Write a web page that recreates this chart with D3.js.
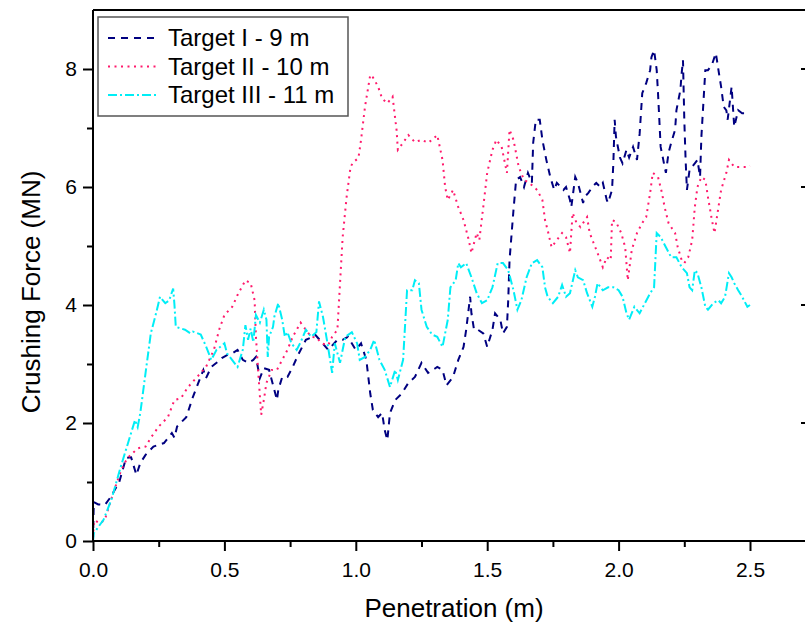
<!DOCTYPE html>
<html>
<head>
<meta charset="utf-8">
<script src="https://cdn.jsdelivr.net/npm/d3@7"></script>
<style>
  body { margin: 0; background: #fff; }
  text { font-family: Arial, "Liberation Sans", sans-serif; fill: #000; }
  .axis path, .axis line { stroke: #000; stroke-width: 2; }
</style>
</head>
<body>
<div id="chart"></div>
<script>
// series names and styles
var seriesNames = ["Target I - 9 m", "Target II - 10 m", "Target III - 11 m"];
var xTicks = [0, 0.5, 1.0, 1.5, 2.0, 2.5];
var yTicks = [0, 2, 4, 6, 8];

// penetration (m), crushing force (MN)
var target1 = [
  [0.000,0.00],[0.003,0.66],[0.02,0.62],[0.045,0.61],[0.068,0.75],[0.10,1.00],[0.126,1.41],[0.145,1.42],
  [0.165,1.12],[0.18,1.32],[0.20,1.46],[0.23,1.60],[0.27,1.66],[0.30,1.83],[0.31,1.75],[0.32,1.94],
  [0.355,2.10],[0.38,2.44],[0.42,2.90],[0.43,2.76],[0.45,2.95],[0.47,3.02],[0.49,3.10],[0.51,3.15],
  [0.53,3.18],[0.55,3.24],[0.57,3.07],[0.59,3.02],[0.61,3.07],[0.62,3.12],[0.635,2.76],[0.65,2.93],
  [0.67,2.90],[0.68,2.73],[0.70,2.39],[0.705,2.56],[0.72,2.78],[0.74,2.78],[0.76,2.95],[0.78,3.15],
  [0.81,3.41],[0.825,3.44],[0.845,3.50],[0.87,3.37],[0.895,3.24],[0.93,3.41],[0.95,3.41],[0.97,3.46],
  [1.00,3.24],[1.02,3.35],[1.04,3.07],[1.055,2.50],[1.065,2.22],[1.085,2.10],[1.10,2.17],[1.11,1.88],
  [1.12,1.71],[1.13,2.17],[1.15,2.39],[1.175,2.50],[1.20,2.68],[1.225,2.78],[1.25,3.02],[1.275,2.85],
  [1.30,2.92],[1.31,2.95],[1.33,2.90],[1.345,2.64],[1.37,2.78],[1.39,3.07],[1.41,3.29],[1.42,3.58],
  [1.435,4.14],[1.44,3.86],[1.45,3.58],[1.465,3.58],[1.485,3.52],[1.50,3.29],[1.52,3.58],[1.53,3.86],
  [1.55,3.75],[1.56,3.52],[1.575,3.63],[1.58,4.08],[1.585,4.76],[1.60,5.61],[1.61,6.12],[1.625,6.17],
  [1.64,6.00],[1.655,6.24],[1.67,6.07],[1.675,6.75],[1.685,7.14],[1.70,7.14],[1.71,6.80],[1.725,6.46],
  [1.74,6.17],[1.755,5.95],[1.765,6.07],[1.79,5.95],[1.80,6.00],[1.815,5.78],[1.82,5.66],[1.835,6.17],
  [1.845,6.07],[1.855,5.90],[1.865,5.73],[1.87,5.83],[1.885,5.90],[1.90,6.00],[1.915,6.07],[1.93,6.00],
  [1.94,6.07],[1.955,5.78],[1.96,5.73],[1.975,5.95],[1.98,6.40],[1.985,7.14],[1.99,6.85],[2.005,6.50],
  [2.015,6.40],[2.03,6.63],[2.04,6.50],[2.055,6.68],[2.07,6.46],[2.08,6.90],[2.09,7.59],[2.105,7.76],
  [2.12,7.98],[2.125,8.20],[2.135,8.32],[2.145,7.98],[2.15,7.59],[2.155,7.14],[2.16,6.68],[2.17,6.46],
  [2.175,6.34],[2.18,6.24],[2.19,6.58],[2.20,6.75],[2.215,6.97],[2.22,7.30],[2.235,7.64],[2.24,7.93],
  [2.245,8.15],[2.25,7.14],[2.255,6.46],[2.26,5.95],[2.27,6.29],[2.29,6.40],[2.30,6.46],[2.31,6.17],
  [2.315,6.85],[2.33,7.98],[2.34,7.98],[2.355,8.07],[2.37,8.27],[2.38,7.98],[2.39,7.70],[2.40,7.36],
  [2.41,7.30],[2.415,7.14],[2.43,7.70],[2.435,7.36],[2.44,7.02],[2.455,7.30],[2.47,7.25],[2.49,7.25],
  [2.50,7.25]
];

var target2 = [
  [0.000,0.05],[0.003,0.30],[0.006,0.35],[0.027,0.30],[0.045,0.36],[0.076,0.80],[0.107,1.20],[0.13,1.40],
  [0.17,1.57],[0.20,1.60],[0.22,1.75],[0.25,1.94],[0.285,2.10],[0.31,2.39],[0.335,2.42],[0.36,2.60],
  [0.40,2.80],[0.42,2.90],[0.43,2.95],[0.46,3.24],[0.48,3.58],[0.50,3.83],[0.53,3.97],[0.55,4.17],
  [0.58,4.42],[0.60,4.37],[0.615,4.08],[0.62,3.46],[0.63,2.78],[0.64,2.14],[0.65,2.39],[0.66,2.68],
  [0.68,2.90],[0.70,2.90],[0.72,3.07],[0.74,3.24],[0.76,3.46],[0.79,3.70],[0.81,3.58],[0.83,3.46],
  [0.85,3.45],[0.87,3.35],[0.895,3.32],[0.91,3.46],[0.93,3.58],[0.94,4.37],[0.95,5.15],[0.965,5.83],
  [0.98,6.34],[0.99,6.42],[1.01,6.49],[1.02,6.80],[1.035,7.36],[1.055,7.90],[1.065,7.86],[1.085,7.70],
  [1.10,7.50],[1.12,7.42],[1.14,7.53],[1.155,6.97],[1.16,6.63],[1.18,6.75],[1.20,6.88],[1.225,6.76],
  [1.25,6.80],[1.275,6.75],[1.29,6.80],[1.31,6.88],[1.33,6.46],[1.34,6.00],[1.35,5.78],[1.37,5.95],
  [1.39,5.66],[1.41,5.44],[1.43,5.10],[1.44,4.88],[1.46,5.22],[1.47,5.10],[1.485,5.66],[1.50,6.24],
  [1.52,6.63],[1.535,6.80],[1.555,6.68],[1.575,6.24],[1.585,6.97],[1.60,6.80],[1.62,6.34],[1.64,6.12],
  [1.66,6.07],[1.69,5.95],[1.71,5.78],[1.72,5.44],[1.73,5.27],[1.745,4.98],[1.765,5.10],[1.785,5.22],
  [1.80,5.15],[1.815,4.88],[1.825,5.56],[1.84,5.39],[1.855,5.32],[1.865,5.39],[1.88,5.49],[1.89,5.22],
  [1.905,5.05],[1.92,4.88],[1.94,4.64],[1.955,4.81],[1.97,4.76],[1.975,5.44],[1.99,5.41],[2.01,5.22],
  [2.025,4.98],[2.035,4.42],[2.05,4.93],[2.07,5.22],[2.09,5.39],[2.105,5.49],[2.12,5.90],[2.13,6.24],
  [2.15,6.17],[2.165,5.90],[2.175,5.66],[2.19,5.39],[2.20,5.32],[2.215,5.22],[2.225,4.98],[2.24,4.76],
  [2.25,4.71],[2.265,4.81],[2.28,5.10],[2.29,5.66],[2.30,6.00],[2.315,6.17],[2.33,6.12],[2.34,5.83],
  [2.355,5.44],[2.365,5.22],[2.38,5.66],[2.39,5.95],[2.41,6.24],[2.42,6.46],[2.44,6.34],[2.46,6.34],
  [2.49,6.34],[2.50,6.36]
];

var target3 = [
  [0.000,0.00],[0.003,0.13],[0.04,0.36],[0.07,0.70],[0.105,1.25],[0.125,1.54],[0.16,2.05],[0.17,1.93],
  [0.18,2.17],[0.20,2.85],[0.22,3.52],[0.24,3.86],[0.255,4.14],[0.275,4.03],[0.29,4.08],[0.305,4.28],
  [0.31,4.00],[0.315,3.63],[0.35,3.58],[0.37,3.52],[0.38,3.55],[0.41,3.50],[0.43,3.30],[0.45,3.07],
  [0.47,3.24],[0.50,3.35],[0.51,3.18],[0.55,2.95],[0.57,3.24],[0.58,3.66],[0.59,3.41],[0.60,3.60],
  [0.61,3.37],[0.62,3.83],[0.635,3.70],[0.65,3.92],[0.66,3.75],[0.665,3.12],[0.67,3.46],[0.685,3.63],
  [0.69,3.80],[0.705,4.03],[0.72,3.75],[0.73,3.46],[0.74,3.54],[0.755,3.35],[0.775,3.24],[0.79,3.37],
  [0.81,3.58],[0.83,3.46],[0.85,3.54],[0.86,4.06],[0.875,3.80],[0.89,3.41],[0.91,2.85],[0.92,3.35],
  [0.94,3.02],[0.96,3.46],[0.985,3.54],[1.005,3.35],[1.015,3.07],[1.035,3.12],[1.055,3.24],[1.07,3.41],
  [1.09,3.07],[1.11,2.90],[1.13,2.61],[1.15,2.90],[1.16,2.73],[1.18,3.07],[1.195,4.25],[1.215,4.25],
  [1.225,4.42],[1.24,4.37],[1.25,3.92],[1.27,3.63],[1.29,3.50],[1.31,3.46],[1.33,3.29],[1.35,3.75],
  [1.36,4.30],[1.38,4.42],[1.39,4.71],[1.40,4.64],[1.42,4.71],[1.44,4.47],[1.46,4.20],[1.48,4.03],
  [1.50,4.08],[1.52,4.30],[1.54,4.71],[1.56,4.71],[1.58,4.59],[1.60,4.25],[1.615,3.92],[1.63,4.08],
  [1.65,4.47],[1.67,4.71],[1.69,4.76],[1.71,4.64],[1.72,4.30],[1.73,4.14],[1.75,4.03],[1.77,4.14],
  [1.785,4.34],[1.80,4.14],[1.815,4.20],[1.835,4.59],[1.845,4.47],[1.865,4.42],[1.88,4.20],[1.90,3.97],
  [1.91,4.14],[1.92,4.37],[1.94,4.25],[1.96,4.30],[1.98,4.30],[2.00,4.25],[2.015,4.14],[2.03,3.86],
  [2.04,3.75],[2.06,3.97],[2.08,3.86],[2.10,4.03],[2.12,4.20],[2.135,4.30],[2.145,5.22],[2.16,5.15],
  [2.18,4.98],[2.20,4.81],[2.22,4.81],[2.24,4.64],[2.26,4.54],[2.27,4.30],[2.28,4.25],[2.29,4.59],
  [2.30,4.54],[2.315,4.30],[2.33,3.97],[2.34,3.92],[2.36,4.03],[2.38,4.08],[2.39,4.03],[2.405,4.14],
  [2.42,4.54],[2.43,4.47],[2.44,4.37],[2.455,4.25],[2.47,4.14],[2.49,3.97],[2.50,4.00]
];

var svgWidth = 805;
var svgHeight = 626;

var plotLeft = 93, plotRight = 807, plotTop = 10, plotBottom = 541;

var svg = d3.select("#chart").append("svg")
  .attr("width", svgWidth)
  .attr("height", svgHeight);

var x = d3.scaleLinear().domain([0, 2.5]).range([plotLeft, 750]);
var y = d3.scaleLinear().domain([0, 9]).range([plotBottom, plotTop]);

var colors = ["#000080", "#ff1a6c", "#00eef6"];
var dashes = ["7,6", "2,4.5", "9,3,2,3"];
var allSeries = [target1, target2, target3];

// lines
var line = d3.line()
  .x(d => x(d[0]))
  .y(d => y(d[1]));

allSeries.forEach(function(data, i) {
  svg.append("path")
    .datum(data)
    .attr("fill", "none")
    .attr("stroke", colors[i])
    .attr("stroke-width", 2)
    .attr("stroke-dasharray", dashes[i])
    .attr("d", line);
});

// frame (top and right)
svg.append("line")
  .attr("x1", plotLeft).attr("x2", plotRight)
  .attr("y1", plotTop).attr("y2", plotTop)
  .attr("stroke", "#000").attr("stroke-width", 2);
svg.append("line")
  .attr("x1", plotRight).attr("x2", plotRight)
  .attr("y1", plotTop).attr("y2", plotBottom)
  .attr("stroke", "#000").attr("stroke-width", 2);

// right side ticks pointing in
svg.selectAll(".rtick")
  .data(yTicks.slice(1))
  .enter()
  .append("line")
  .attr("x1", plotRight - 6).attr("x2", plotRight)
  .attr("y1", d => y(d)).attr("y2", d => y(d))
  .attr("stroke", "#000").attr("stroke-width", 2);

// minor ticks
var xMinor = d3.range(0.25, 2.8, 0.5);
var yMinor = [1, 3, 5, 7];

svg.append("g")
  .attr("class", "axis")
  .attr("transform", `translate(0, ${plotBottom})`)
  .call(d3.axisBottom(x).tickValues(xMinor).tickSize(6).tickSizeOuter(0).tickFormat(""))
  .select(".domain").remove();

svg.append("g")
  .attr("class", "axis")
  .attr("transform", `translate(${plotLeft}, 0)`)
  .call(d3.axisLeft(y).tickValues(yMinor).tickSize(6).tickSizeOuter(0).tickFormat(""))
  .select(".domain").remove();

// x axis
var xAxis = svg.append("g")
  .attr("class", "axis")
  .attr("transform", `translate(0, ${plotBottom})`)
  .call(d3.axisBottom(x).tickValues(xTicks).tickSize(10).tickSizeOuter(0).tickPadding(11).tickFormat(d3.format(".1f")));
xAxis.select(".domain").attr("d", `M${plotLeft},0H${plotRight}`);
xAxis.selectAll("text").style("font-size", "21px");

// y axis
var yAxis = svg.append("g")
  .attr("class", "axis")
  .attr("transform", `translate(${plotLeft}, 0)`)
  .call(d3.axisLeft(y).tickValues(yTicks).tickSize(10).tickSizeOuter(0).tickPadding(6).tickFormat(d3.format("d")));
yAxis.select(".domain").attr("d", `M0,${plotBottom}V${plotTop}`);
yAxis.selectAll("text").style("font-size", "21px");

// axis titles
svg.append("text")
  .attr("x", 454)
  .attr("y", 617)
  .style("text-anchor", "middle")
  .style("font-size", "26px")
  .text("Penetration (m)");

svg.append("text")
  .attr("transform", "rotate(-90)")
  .attr("x", -292)
  .attr("y", 40)
  .style("text-anchor", "middle")
  .style("font-size", "26px")
  .text("Crushing Force (MN)");

// legend
var legend = svg.append("g");
legend.append("rect")
  .attr("x", 98).attr("y", 17)
  .attr("width", 250).attr("height", 99)
  .attr("fill", "#fff")
  .attr("stroke", "#555")
  .attr("stroke-width", 1.5);

seriesNames.forEach(function(name, i) {
  var ly = 38 + i * 28.5;
  legend.append("line")
    .attr("x1", 108).attr("x2", 158)
    .attr("y1", ly).attr("y2", ly)
    .attr("stroke", colors[i])
    .attr("stroke-width", 2)
    .attr("stroke-dasharray", dashes[i]);
  legend.append("text")
    .attr("x", 168)
    .attr("y", ly + 8)
    .style("font-size", "24px")
    .text(name);
});
</script>
</body>
</html>
